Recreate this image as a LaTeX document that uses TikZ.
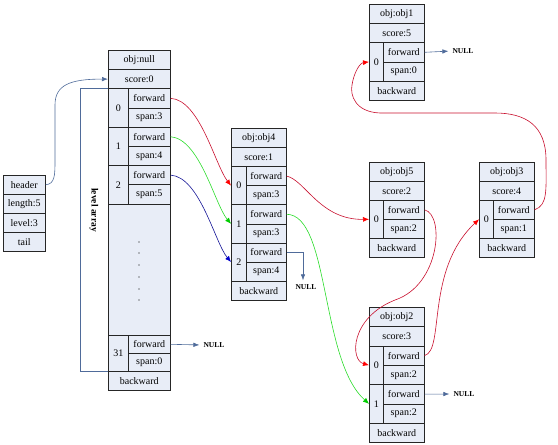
\documentclass[tikz,border=0pt]{standalone}
\usepackage{fontspec}
\setmainfont{Liberation Serif}
\usetikzlibrary{arrows.meta}
\definecolor{cellfill}{RGB}{232,237,247}
\definecolor{ptrblue}{RGB}{79,107,154}
\definecolor{lvlred}{RGB}{200,16,46}
\definecolor{lvlgreen}{RGB}{40,220,40}
\definecolor{lvlblue}{RGB}{20,20,150}
\tikzset{
  cell/.style={draw=black!85, line width=0.6pt, fill=cellfill, inner sep=0pt,
    anchor=north west, font=\fontsize{10}{11}\selectfont},
  nulltext/.style={inner sep=1pt, font=\bfseries\fontsize{7.5}{8}\selectfont},
  nullptr/.style={draw=ptrblue, line width=0.6pt, shorten >=3pt,
    -{Latex[length=6pt,width=4.5pt]}},
  redptr/.style={draw=lvlred, line width=0.6pt, -{Latex[length=6pt,width=5pt,color=red]}},
  greenptr/.style={draw=lvlgreen, line width=0.6pt, -{Latex[length=6pt,width=5pt,color=green!80!black]}},
  blueptr/.style={draw=lvlblue, line width=0.6pt, -{Latex[length=6pt,width=5pt,color=blue!80!black]}},
}
\begin{document}
\begin{tikzpicture}[x=1pt,y=-1pt]
    \useasboundingbox (0,0) rectangle (558,445);
    % header
    \node[cell, minimum width=42, minimum height=19] (hdr) at (3,175) {header};
    \node[cell, minimum width=42, minimum height=19] (hdrlen) at (3,194) {length:5};
    \node[cell, minimum width=42, minimum height=19] (hdrlvl) at (3,213) {level:3};
    \node[cell, minimum width=42, minimum height=19] (hdrtail) at (3,232) {tail};
    % obj:null
    \node[cell, minimum width=62, minimum height=19.2] (nulltitle) at (108,50) {obj:null};
    \node[cell, minimum width=62, minimum height=19.2] (nullscore) at (108,69.2) {score:0};
    \node[cell, minimum width=20, minimum height=38.4] (nulli0) at (108,88.4) {0};
    \node[cell, minimum width=42, minimum height=19.2] (nullf0) at (128,88.4) {forward};
    \node[cell, minimum width=42, minimum height=19.2] (nulls0) at (128,107.6) {span:3};
    \node[cell, minimum width=20, minimum height=38.4] (nulli1) at (108,126.8) {1};
    \node[cell, minimum width=42, minimum height=19.2] (nullf1) at (128,126.8) {forward};
    \node[cell, minimum width=42, minimum height=19.2] (nulls1) at (128,146) {span:4};
    \node[cell, minimum width=20, minimum height=38.4] (nulli2) at (108,165.2) {2};
    \node[cell, minimum width=42, minimum height=19.2] (nullf2) at (128,165.2) {forward};
    \node[cell, minimum width=42, minimum height=19.2] (nulls2) at (128,184.4) {span:5};
    \node[cell, minimum width=62, minimum height=131.4] (nullgap) at (108,203.6) {};
    \node[cell, minimum width=20, minimum height=36] (nulli31) at (108,335) {31};
    \node[cell, minimum width=42, minimum height=18] (nullf31) at (128,335) {forward};
    \node[cell, minimum width=42, minimum height=18] (nulls31) at (128,353) {span:0};
    \node[cell, minimum width=62, minimum height=19] (nullback) at (108,371) {backward};
    \foreach \y in {242,253,265,277,289,300}
        \fill (139,\y) circle (0.6);
    % obj:obj4
    \node[cell, minimum width=55, minimum height=19.1] (o4title) at (231,128) {obj:obj4};
    \node[cell, minimum width=55, minimum height=19.1] (o4score) at (231,147.1) {score:1};
    \node[cell, minimum width=15, minimum height=38.2] (o4i0) at (231,166.2) {0};
    \node[cell, minimum width=40, minimum height=19.1] (o4f0) at (246,166.2) {forward};
    \node[cell, minimum width=40, minimum height=19.1] (o4s0) at (246,185.3) {span:3};
    \node[cell, minimum width=15, minimum height=38.2] (o4i1) at (231,204.4) {1};
    \node[cell, minimum width=40, minimum height=19.1] (o4f1) at (246,204.4) {forward};
    \node[cell, minimum width=40, minimum height=19.1] (o4s1) at (246,223.5) {span:3};
    \node[cell, minimum width=15, minimum height=38.2] (o4i2) at (231,242.6) {2};
    \node[cell, minimum width=40, minimum height=19.1] (o4f2) at (246,242.6) {forward};
    \node[cell, minimum width=40, minimum height=19.1] (o4s2) at (246,261.7) {span:4};
    \node[cell, minimum width=55, minimum height=19.1] (o4back) at (231,280.8) {backward};
    % obj:obj1
    \node[cell, minimum width=55, minimum height=19.2] (o1title) at (369,4) {obj:obj1};
    \node[cell, minimum width=55, minimum height=19.2] (o1score) at (369,23.2) {score:5};
    \node[cell, minimum width=14, minimum height=38.4] (o1i0) at (369,42.4) {0};
    \node[cell, minimum width=41, minimum height=19.2] (o1f0) at (383,42.4) {forward};
    \node[cell, minimum width=41, minimum height=19.2] (o1s0) at (383,61.6) {span:0};
    \node[cell, minimum width=55, minimum height=19.2] (o1back) at (369,80.8) {backward};
    % obj:obj5
    \node[cell, minimum width=55, minimum height=19] (o5title) at (369,162) {obj:obj5};
    \node[cell, minimum width=55, minimum height=19] (o5score) at (369,181) {score:2};
    \node[cell, minimum width=14, minimum height=38] (o5i0) at (369,200) {0};
    \node[cell, minimum width=41, minimum height=19] (o5f0) at (383,200) {forward};
    \node[cell, minimum width=41, minimum height=19] (o5s0) at (383,219) {span:2};
    \node[cell, minimum width=55, minimum height=19] (o5back) at (369,238) {backward};
    % obj:obj3
    \node[cell, minimum width=55, minimum height=19] (o3title) at (479,162) {obj:obj3};
    \node[cell, minimum width=55, minimum height=19] (o3score) at (479,181) {score:4};
    \node[cell, minimum width=14, minimum height=38] (o3i0) at (479,200) {0};
    \node[cell, minimum width=41, minimum height=19] (o3f0) at (493,200) {forward};
    \node[cell, minimum width=41, minimum height=19] (o3s0) at (493,219) {span:1};
    \node[cell, minimum width=55, minimum height=19] (o3back) at (479,238) {backward};
    % obj:obj2
    \node[cell, minimum width=55, minimum height=19.3] (o2title) at (369,307) {obj:obj2};
    \node[cell, minimum width=55, minimum height=19.3] (o2score) at (369,326.3) {score:3};
    \node[cell, minimum width=14, minimum height=38.6] (o2i0) at (369,345.6) {0};
    \node[cell, minimum width=41, minimum height=19.3] (o2f0) at (383,345.6) {forward};
    \node[cell, minimum width=41, minimum height=19.3] (o2s0) at (383,364.9) {span:2};
    \node[cell, minimum width=14, minimum height=38.6] (o2i1) at (369,384.2) {1};
    \node[cell, minimum width=41, minimum height=19.3] (o2f1) at (383,384.2) {forward};
    \node[cell, minimum width=41, minimum height=19.3] (o2s1) at (383,403.5) {span:2};
    \node[cell, minimum width=55, minimum height=19.3] (o2back) at (369,422.8) {backward};
    % level array
    \node[font=\bfseries\fontsize{9.5}{10}\selectfont, rotate=-90] (lvlarr) at (94,210) {level array};
    \draw[draw=ptrblue, line width=0.6pt] (nulli0.north west) -- ++(-28,0) |- (nulli31.south west);
    \draw[nullptr, shorten >=0pt] (hdr.east) .. controls (55,184) and (55,175) .. (55,160)
        -- (55,105) .. controls (55,85) and (70,79) .. (nullscore.west);
    % NULL ends
    \node[nulltext] (null31) at (214,345) {NULL};
    \node[nulltext] (null4) at (306,287) {NULL};
    \node[nulltext] (null1) at (463,51) {NULL};
    \node[nulltext] (null2) at (464,394) {NULL};
    \draw[nullptr] (nullf31.east) -- (null31.west);
    \draw[nullptr] (o4f2.east) -| ([xshift=-3pt]null4.north);
    \draw[nullptr] (o1f0.east) -- (null1.west);
    \draw[nullptr] (o2f1.east) -- (null2.west);
    % level 0
    \draw[redptr] (nullf0.east) .. controls (200,100) and (215,165) .. (o4i0.west);
    \draw[redptr] (o4f0.east) .. controls (305,180) and (320,220) .. (o5i0.west);
    \draw[redptr] (o5f0.east) .. controls (445,215) and (440,285) .. (395,300)
        .. controls (350,318) and (350,360) .. (o2i0.west);
    \draw[redptr] (o2f0.east) .. controls (445,350) and (425,270) .. (o3i0.west);
    \draw[redptr] (o3f0.east) .. controls (548,205) and (546,190) .. (546,160)
        .. controls (546,125) and (525,113) .. (495,113) -- (380,113)
        .. controls (355,112) and (350,95) .. (352,85)
        .. controls (354,72) and (360,63) .. (o1i0.west);
    % level 1
    \draw[greenptr] (nullf1.east) .. controls (200,139) and (215,205) .. (o4i1.west);
    \draw[greenptr] (o4f1.east) .. controls (330,215) and (320,360) .. (o2i1.west);
    % level 2
    \draw[blueptr] (nullf2.east) .. controls (200,177) and (215,243) .. (o4i2.west);
\end{tikzpicture}
\end{document}
